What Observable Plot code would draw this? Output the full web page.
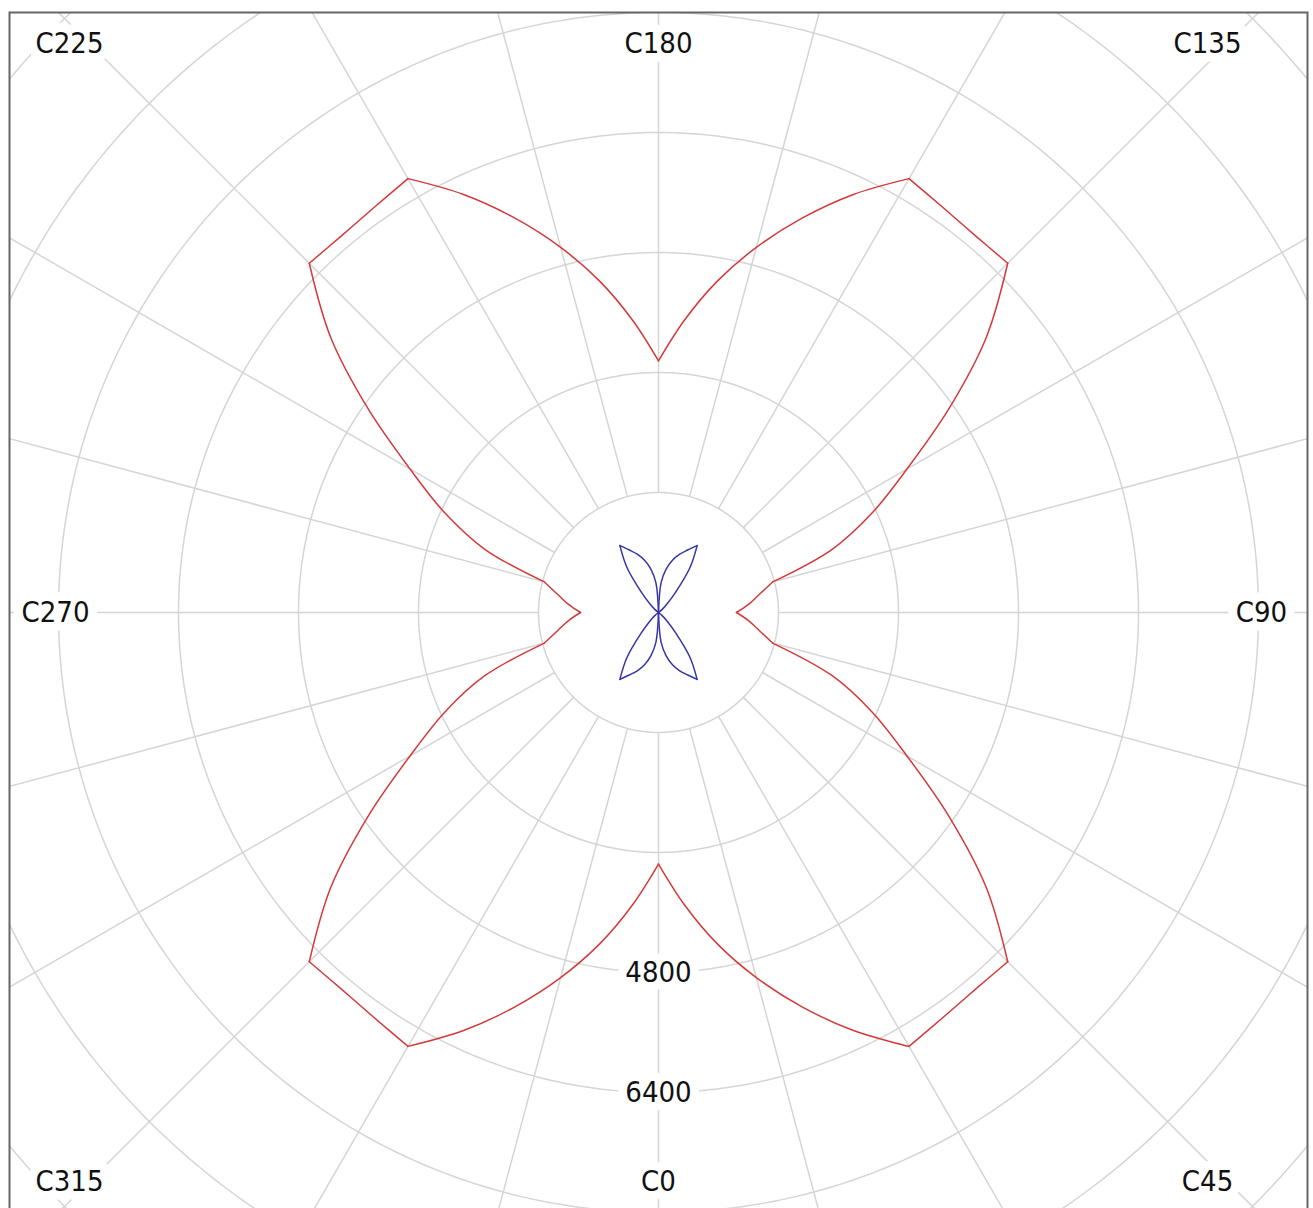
<!DOCTYPE html>
<html>
<head>
<meta charset="utf-8">
<script src="https://cdn.jsdelivr.net/npm/d3@7"></script>
<script src="https://cdn.jsdelivr.net/npm/@observablehq/plot@0.6"></script>
<style>
  html, body { margin: 0; padding: 0; background: #fff; overflow: hidden; }
  #chart svg { display: block; }
</style>
</head>
<body>
<div id="chart"></div>
<script>
// C-plane angles (degrees), 5° steps
const angles = [
  0, 5, 10, 15, 20, 25, 30, 35, 40, 45, 50, 55, 60, 65, 70, 75, 80, 85,
  90, 95, 100, 105, 110, 115, 120, 125, 130, 135, 140, 145, 150, 155, 160, 165, 170, 175,
  180, 185, 190, 195, 200, 205, 210, 215, 220, 225, 230, 235, 240, 245, 250, 255, 260, 265,
  270, 275, 280, 285, 290, 295, 300, 305, 310, 315, 320, 325, 330, 335, 340, 345, 350, 355
];
// red series
const redValues = [
  3355, 3905, 4480, 5040, 5595, 6150, 6680, 6600, 6565, 6585, 5705, 4720, 3825, 3145, 2465, 1575, 1360, 1200,
  1040, 1200, 1360, 1575, 2465, 3145, 3825, 4720, 5705, 6585, 6565, 6600, 6680, 6150, 5595, 5040, 4480, 3905,
  3355, 3905, 4480, 5040, 5595, 6150, 6680, 6600, 6565, 6585, 5705, 4720, 3825, 3145, 2465, 1575, 1360, 1200,
  1040, 1200, 1360, 1575, 2465, 3145, 3825, 4720, 5705, 6585, 6565, 6600, 6680, 6150, 5595, 5040, 4480, 3905
];
// angles where the red curve has a sharp corner
const redCorners = [0, 30, 45, 75, 90, 105, 135, 150, 180, 210, 225, 255, 270, 285, 315, 330, 360];
// blue series
const blueValues = [
  0, 400, 587, 720, 827, 920, 1030, 733, 360, 160, 65, 0, 0, 0, 0, 0, 0, 0,
  0, 0, 0, 0, 0, 0, 0, 0, 65, 160, 360, 733, 1030, 920, 827, 720, 587, 400,
  0, 400, 587, 720, 827, 920, 1030, 733, 360, 160, 65, 0, 0, 0, 0, 0, 0, 0,
  0, 0, 0, 0, 0, 0, 0, 0, 65, 160, 360, 733, 1030, 920, 827, 720, 587, 400
];
const blueCorners = [0, 30, 55, 125, 150, 180, 210, 235, 305, 330, 360];
// grid
const gridRadii = [1600, 3200, 4800, 6400, 8000, 9600, 11200];
const spokeAngles = [0, 15, 30, 45, 60, 75, 90, 105, 120, 135, 150, 165, 180, 195, 210, 225, 240, 255, 270, 285, 300, 315, 330, 345];
const spokeStart = 1600;
const spokeEnd = 12500;
// tick labels
const labelAngles = [0, 45, 90, 135, 180, 225, 270, 315];
const labelTexts = ["C0", "C45", "C90", "C135", "C180", "C225", "C270", "C315"];
const radialTicks = [4800, 6400];

const rad = (a) => a * Math.PI / 180;
const px = (a, r) => r * Math.sin(rad(a));
const py = (a, r) => -r * Math.cos(rad(a));

// split a closed series into pieces between its corners (each piece smoothed separately)
function pieces(vals, corners) {
  const pts = angles.map((a, i) => ({a, r: vals[i]}));
  pts.push({a: 360, r: vals[0]});
  const out = [];
  for (let k = 0; k < corners.length - 1; k++) {
    const lo = corners[k], hi = corners[k + 1];
    for (const p of pts) if (p.a >= lo && p.a <= hi) out.push({...p, seg: k});
  }
  return out;
}
const red = pieces(redValues, redCorners);
const blue = pieces(blueValues, blueCorners);

const circlePts = [];
for (const r of gridRadii) for (let a = 0; a <= 360; a += 1) circlePts.push({r, a});

// frame extent in data units (square pixel scale)
const yHalf = 8000;
const xHalf = yHalf * 1298 / 1200;
// label box (inset from the frame)
const lblHalfX = 8040, lblHalfY = 7587;
const labels = labelAngles.map((a, i) => {
  const sx = Math.sin(rad(a)), sy = -Math.cos(rad(a));
  const t = Math.min(Math.abs(sx) > 1e-9 ? lblHalfX / Math.abs(sx) : Infinity,
                     Math.abs(sy) > 1e-9 ? lblHalfY / Math.abs(sy) : Infinity);
  return {a, text: labelTexts[i], x: sx * t, y: sy * t, diag: a % 90 !== 0};
});

const font = "'DejaVu Sans Condensed', 'DejaVu Sans', sans-serif";
const textStyle = {
  fontSize: 29, fill: "#111", stroke: "white", strokeWidth: 18,
  strokeLinejoin: "round", paintOrder: "stroke"
};

const chart = Plot.plot({
  width: 1313,
  height: 1216,
  marginLeft: 9, marginRight: 6, marginTop: 12, marginBottom: 4,
  x: {domain: [-xHalf, xHalf], axis: null},
  y: {domain: [-yHalf, yHalf], axis: null},
  style: {fontFamily: font, background: "white", fontStretch: "condensed"},
  marks: [
    Plot.line(circlePts, {x: d => px(d.a, d.r), y: d => py(d.a, d.r), z: "r", stroke: "#d5d5d5", strokeWidth: 1.5, clip: true}),
    Plot.link(spokeAngles, {
      x1: a => px(a, spokeStart), y1: a => py(a, spokeStart),
      x2: a => px(a, spokeEnd), y2: a => py(a, spokeEnd),
      stroke: "#d5d5d5", strokeWidth: 1.5, clip: true
    }),
    Plot.text(labels.filter(d => !d.diag), {x: "x", y: "y", text: "text", ...textStyle}),
    Plot.text(labels.filter(d => d.diag), {x: "x", y: "y", text: "text", dx: -20, ...textStyle}),
    Plot.text(radialTicks, {x: r => px(0, r), y: r => py(0, r), text: r => String(r), ...textStyle}),
    Plot.line(red, {x: d => px(d.a, d.r), y: d => py(d.a, d.r), z: "seg", curve: "catmull-rom", stroke: "#d23a3a", strokeWidth: 1.5}),
    Plot.line(blue, {x: d => px(d.a, d.r), y: d => py(d.a, d.r), z: "seg", curve: "catmull-rom", stroke: "#3535a5", strokeWidth: 1.5}),
    Plot.frame({stroke: "#666", strokeWidth: 2})
  ]
});
document.getElementById("chart").appendChild(chart);
</script>
</body>
</html>
